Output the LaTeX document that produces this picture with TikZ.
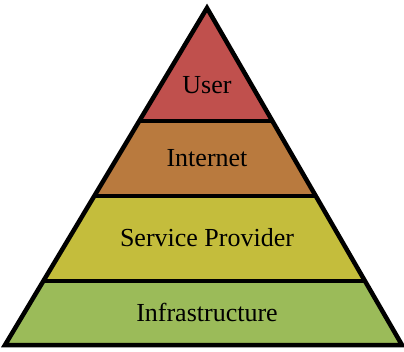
\documentclass[tikz,border=0pt]{standalone}
\usepackage{fontspec}
\setmainfont{Liberation Serif}
\begin{document}
\begin{tikzpicture}[x=1pt,y=1pt,
  lbl/.style={font=\fontsize{26}{28}\selectfont, text=black},
  sep/.style={draw=black, line width=3.5pt}]
\definecolor{cUser}{RGB}{192,80,77}
\definecolor{cNet}{RGB}{185,122,62}
\definecolor{cSP}{RGB}{196,189,60}
\definecolor{cInf}{RGB}{155,187,89}
\useasboundingbox (0,0) rectangle (404,351);
\coordinate (A) at (207,343);
\coordinate (L) at (5,6);
\coordinate (R) at (402,6);
\begin{scope}
  \clip (A) -- (L) -- (R) -- cycle;
  \fill[cUser] (0,230) rectangle (404,351);
  \fill[cNet] (0,155) rectangle (404,230);
  \fill[cSP] (0,70) rectangle (404,155);
  \fill[cInf] (0,0) rectangle (404,70);
  \draw[sep] (0,230) -- (404,230);
  \draw[sep] (0,155) -- (404,155);
  \draw[sep] (0,70) -- (404,70);
\end{scope}
\draw[line width=4.5pt, line join=miter] (A) -- (L) -- (R) -- cycle;
\node[lbl] (user) at (207,266) {User};
\node[lbl] (net) at (207,193) {Internet};
\node[lbl] (sp) at (207,113) {Service Provider};
\node[lbl] (inf) at (207,39) {Infrastructure};
\end{tikzpicture}
\end{document}
